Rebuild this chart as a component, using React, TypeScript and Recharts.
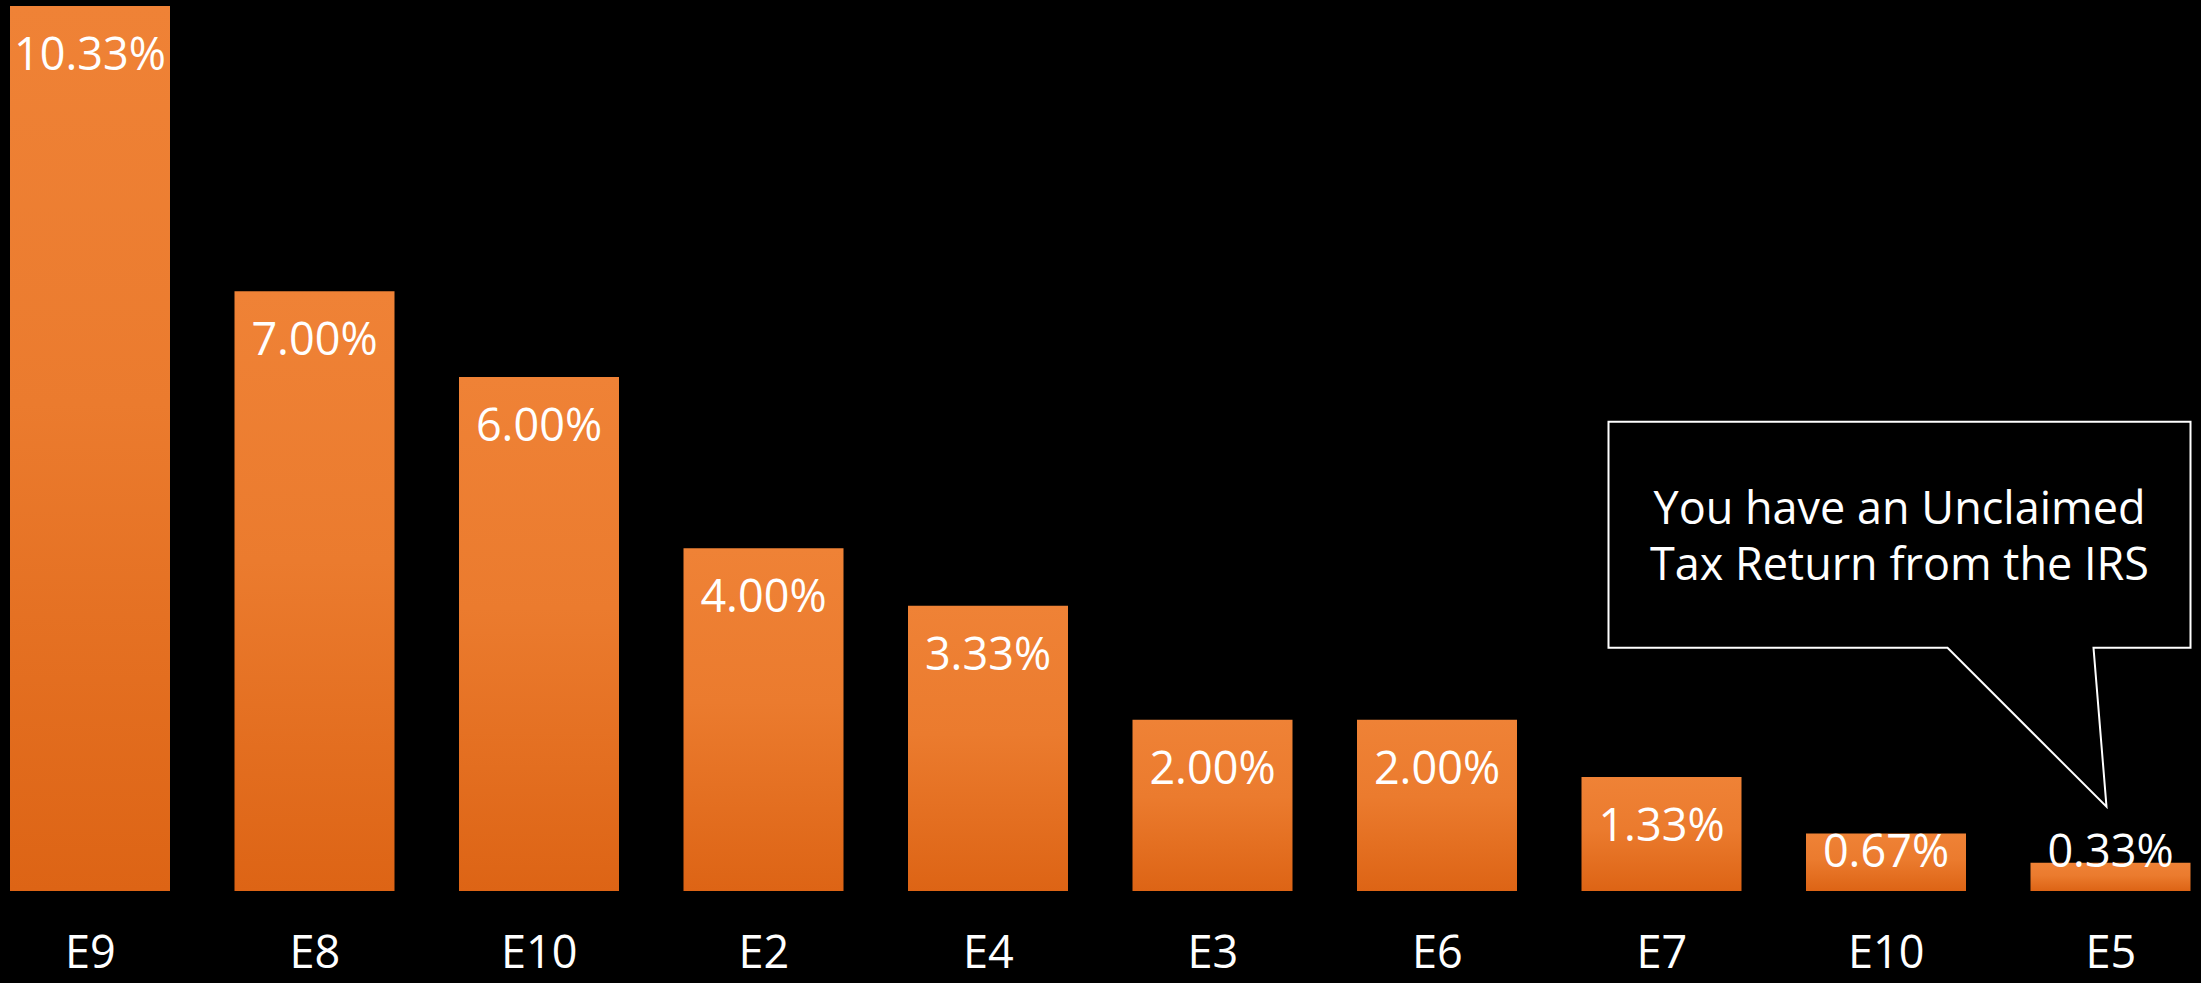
import { BarChart, Bar, XAxis, YAxis, LabelList, Cell } from 'recharts';

const categories = ['E9', 'E8', 'E10', 'E2', 'E4', 'E3', 'E6', 'E7', 'E10', 'E5'];
const shares = [10.33, 7.0, 6.0, 4.0, 3.33, 2.0, 2.0, 1.33, 0.67, 0.33];
const calloutLines = ['You have an Unclaimed', 'Tax Return from the IRS'];

const data = categories.map((name, i) => ({ key: `${name}-${i}`, name, value: shares[i] }));

const FONT = '"Segoe UI", "Open Sans", sans-serif';

function CategoryTick(props: any) {
  const { x, y, payload } = props;
  const label = categories[payload.index] ?? payload.value;
  return (
    <text x={x} y={y + 77} textAnchor="middle" fill="#fff" fontSize={45} fontFamily={FONT}>
      {label}
    </text>
  );
}

function ValueLabel(props: any) {
  const { x, y, width, height, value, index } = props;
  const cx = x + width / 2;
  // keep the label inside the bar, but never lower than 24px above the base
  const ty = Math.min(y + 64, y + height - 24);
  const last = index === shares.length - 1;
  return (
    <g>
      <text x={cx} y={ty} textAnchor="middle" fill="#fff" fontSize={45} fontFamily={FONT}>
        {`${Number(value).toFixed(2)}%`}
      </text>
      {last && (
        <g>
          <path
            d={`M${cx - 502},${y - 441} L${cx + 80},${y - 441} L${cx + 80},${y - 215} L${cx - 17},${y - 215} L${cx - 4},${y - 56} L${cx - 163},${y - 215} L${cx - 502},${y - 215} Z`}
            fill="#000"
            stroke="#fff"
            strokeWidth={2}
          />
          {calloutLines.map((line, i) => (
            <text
              key={line}
              x={cx - 211}
              y={y - 339 + i * 56}
              textAnchor="middle"
              fill="#fff"
              fontSize={45}
              fontFamily={FONT}
            >
              {line}
            </text>
          ))}
        </g>
      )}
    </g>
  );
}

export default function App() {
  return (
    <div style={{ position: 'absolute', left: 0, top: 0, background: '#000', width: 2201, height: 983, overflow: 'hidden' }}>
      <BarChart
        width={2201}
        height={983}
        data={data}
        margin={{ top: 6, right: -22, bottom: 0, left: -22 }}
        barCategoryGap={64}
      >
        <defs>
          <linearGradient id="orangeFill" x1="0" y1="0" x2="0" y2="1">
            <stop offset="0%" stopColor="#EF8236" />
            <stop offset="45%" stopColor="#EB7B2E" />
            <stop offset="100%" stopColor="#DD6415" />
          </linearGradient>
        </defs>
        <XAxis
          dataKey="key"
          axisLine={false}
          tickLine={false}
          tickSize={0}
          tickMargin={0}
          height={92}
          interval={0}
          tick={<CategoryTick />}
        />
        <YAxis hide domain={[0, 10.33]} />
        <Bar dataKey="value" isAnimationActive={false} barSize={160}>
          {data.map((d) => (
            <Cell key={d.key} fill="url(#orangeFill)" />
          ))}
          <LabelList dataKey="value" content={<ValueLabel />} />
        </Bar>
      </BarChart>
    </div>
  );
}
